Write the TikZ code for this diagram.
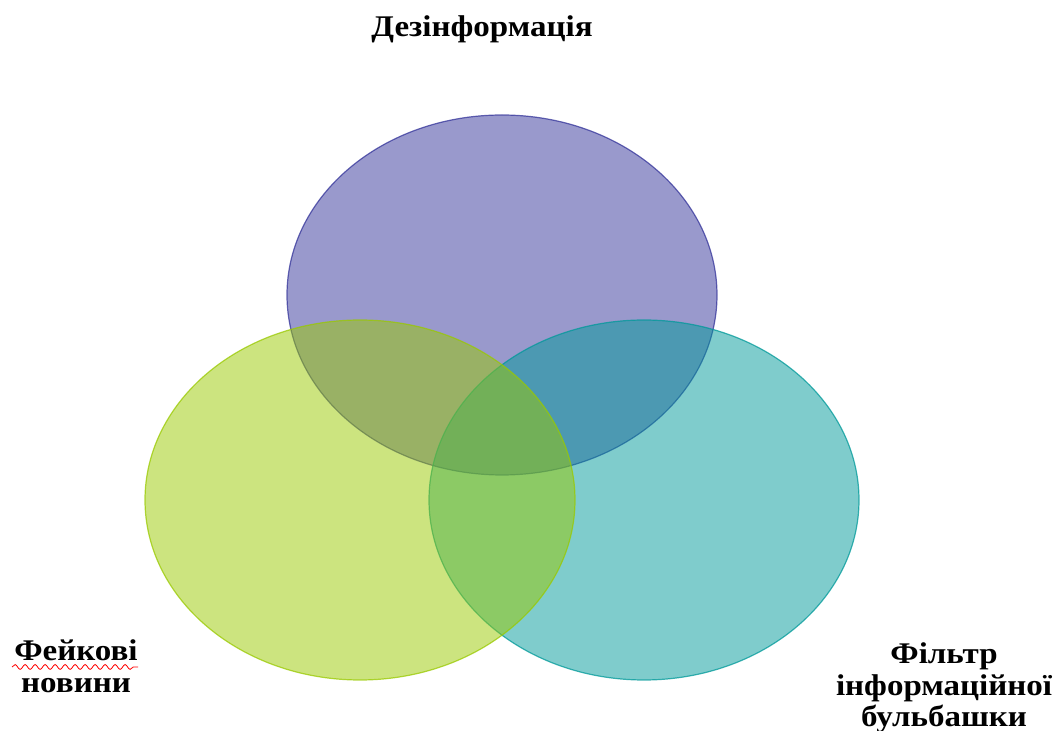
\documentclass[tikz,border=0pt]{standalone}
\usepackage{fontspec}
\setmainfont{Liberation Serif}[FakeStretch=1.1]
\definecolor{DezBlue}{RGB}{51,51,153}
\definecolor{FakeGreen}{RGB}{153,201,0}
\definecolor{BubbleTeal}{RGB}{0,153,153}
\usetikzlibrary{positioning,shapes.geometric,decorations.pathmorphing}
\tikzset{>=latex}

\begin{document}
\begin{tikzpicture}[>=latex,x=0.5pt,y=-0.5pt,
        venn/.style={ellipse,inner sep=0pt,minimum width=215pt,minimum height=180pt,fill opacity=0.5,draw opacity=0.75,line width=0.6pt},
        vlabel/.style={font=\fontsize{15}{15.8}\selectfont\bfseries,align=center,inner sep=0pt}]
        \useasboundingbox (0,0) rectangle (1056,731);
        % draw ellipses
        \node[venn,fill=DezBlue,draw=DezBlue] at (502,295) (D) {};
        \node[venn,fill=BubbleTeal,draw=BubbleTeal] at (644,500) (B) {};
        \node[venn,fill=FakeGreen,draw=FakeGreen] at (360,500) (F) {};
        % labels
        \node[vlabel] at (482,29) (DL) {Дезінформація};
        \node[vlabel] at (76,666) (FL) {Фейкові\\новини};
        \node[vlabel] at (944,688) (BL) {Фільтр\\інформаційної\\бульбашки};
        % spell check squiggle
        \coordinate (S1) at (12,667);
        \coordinate (S2) at (138,667);
        \draw[red,line width=0.4pt,decorate,decoration={snake,segment length=5,amplitude=1.2}] (S1) -- (S2);
    \end{tikzpicture}
\end{document}
